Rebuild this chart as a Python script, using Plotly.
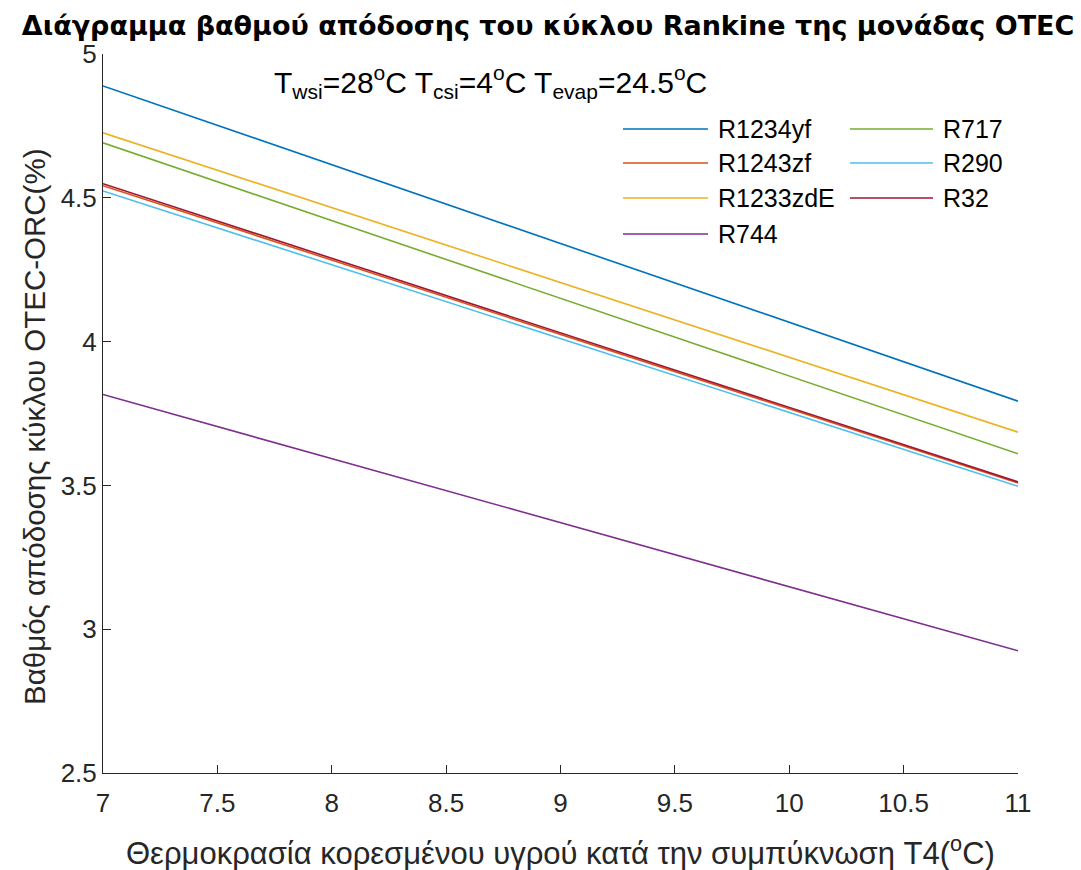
import plotly.graph_objects as go

# Condensation temperature T4 (°C)
t4 = [7, 11]

# Rankine cycle efficiency (%) per working fluid
r1234yf = [4.889, 3.793]
r1243zf = [4.542, 3.508]
r1233zde = [4.726, 3.685]
r744 = [3.816, 2.925]
r717 = [4.691, 3.610]
r290 = [4.524, 3.497]
r32 = [4.549, 3.512]

names = ["R1234yf", "R1243zf", "R1233zdE", "R744", "R717", "R290", "R32"]
values = [r1234yf, r1243zf, r1233zde, r744, r717, r290, r32]
colors = ["#0072BD", "#D95319", "#EDB120", "#7E2F8E", "#77AC30", "#4DBEEE", "#A2142F"]

x_ticks = [7, 7.5, 8, 8.5, 9, 9.5, 10, 10.5, 11]
y_ticks = [2.5, 3, 3.5, 4, 4.5, 5]

FONT = "Liberation Sans, Arial, sans-serif"
TITLE_FONT = "DejaVu Sans, Liberation Sans, sans-serif"
INK = "#262626"

fig = go.Figure()
for name, vals, col in zip(names, values, colors):
    fig.add_trace(go.Scatter(x=t4, y=vals, mode="lines", name=name,
                             line=dict(color=col, width=1.6), showlegend=False))

# Pixel helpers for placing decorations in paper space
W, H = 1081, 870
ml, mr, mt, mb = 103, 63, 54, 97
pw, ph = W - ml - mr, H - mt - mb


def px(xp):
    return (xp - ml) / pw


def py(yp):
    return 1 - (yp - mt) / ph


# Two-column legend (column-first order)
rows_y = [129, 163, 198, 234]
col_x = [(623, 708, 716), (850, 933, 941)]
for i, (name, col) in enumerate(zip(names, colors)):
    c = 0 if i < 4 else 1
    r = i if i < 4 else i - 4
    x0, x1, xt = col_x[c]
    yy = py(rows_y[r])
    fig.add_shape(type="line", xref="paper", yref="paper",
                  x0=px(x0), x1=px(x1), y0=yy, y1=yy,
                  line=dict(color=col, width=1.6))
    fig.add_annotation(xref="paper", yref="paper", x=px(xt), y=yy,
                       text=name, showarrow=False, xanchor="left", yanchor="middle",
                       font=dict(family=FONT, size=25, color="#000000"))

# Operating conditions label
fig.add_annotation(xref="paper", yref="paper", x=px(272), y=py(82),
                   text="T<sub>wsi</sub>=28<sup>o</sup>C T<sub>csi</sub>=4<sup>o</sup>C T<sub>evap</sub>=24.5<sup>o</sup>C",
                   showarrow=False, xanchor="left", yanchor="middle",
                   font=dict(family=FONT, size=30, color="#000000"))

# Axis titles
fig.add_annotation(xref="paper", yref="paper", x=px(560), y=py(851),
                   text="Θερμοκρασία κορεσμένου υγρού κατά την συμπύκνωση T4(<sup>o</sup>C)",
                   showarrow=False, xanchor="center", yanchor="middle",
                   font=dict(family=FONT, size=31, color=INK))
fig.add_annotation(xref="paper", yref="paper", x=px(34), y=py(427),
                   text="Βαθμός απόδοσης κύκλου OTEC-ORC(%)", textangle=-90,
                   showarrow=False, xanchor="center", yanchor="middle",
                   font=dict(family=FONT, size=29.5, color=INK))

fig.update_layout(
    width=W, height=H,
    margin=dict(l=ml, r=mr, t=mt, b=mb),
    paper_bgcolor="white", plot_bgcolor="white",
    title=dict(text="<b>Διάγραμμα βαθμού απόδοσης του κύκλου Rankine της μονάδας OTEC</b>",
               x=0.507, xanchor="center", y=0.971, yanchor="middle",
               font=dict(family=TITLE_FONT, size=27, color="#000000")),
    xaxis=dict(range=[7, 11], tickvals=x_ticks, ticktext=[f"{v:g}" for v in x_ticks],
               showgrid=False, zeroline=False, showline=True, linecolor=INK, linewidth=1,
               ticks="inside", ticklen=8, tickcolor=INK, ticklabelstandoff=7,
               tickfont=dict(family=FONT, size=26, color=INK)),
    yaxis=dict(range=[2.5, 5], tickvals=y_ticks, ticktext=[f"{v:g}" for v in y_ticks],
               showgrid=False, zeroline=False, showline=True, linecolor=INK, linewidth=1,
               ticks="inside", ticklen=8, tickcolor=INK,
               tickfont=dict(family=FONT, size=26, color=INK)),
)

fig.write_html("out.html")
